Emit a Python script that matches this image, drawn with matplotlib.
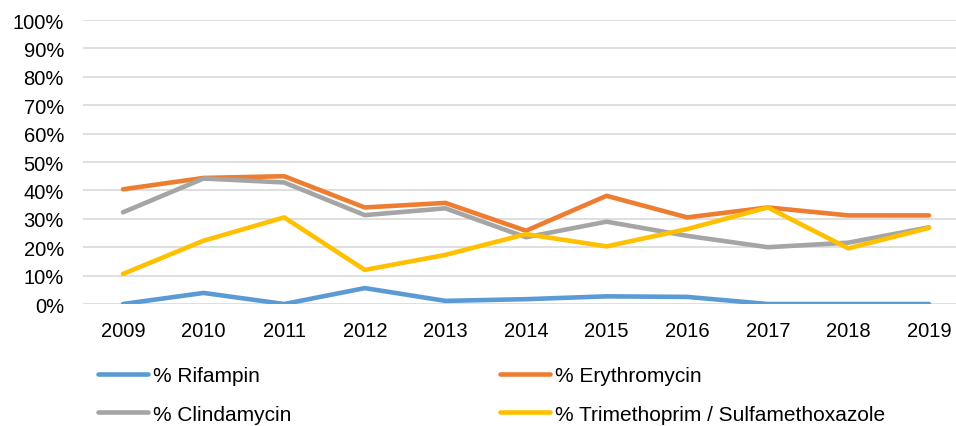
import matplotlib.pyplot as plt
from matplotlib.ticker import PercentFormatter

plt.rcParams['font.family'] = ['Liberation Sans', 'DejaVu Sans']

years = ['2009', '2010', '2011', '2012', '2013', '2014', '2015', '2016', '2017', '2018', '2019']
rifampin = [0.0, 3.9, 0.0, 5.6, 1.1, 1.7, 2.7, 2.5, 0.0, 0.0, 0.0]
erythromycin = [40.4, 44.4, 45.0, 34.0, 35.6, 25.8, 38.1, 30.5, 34.0, 31.2, 31.2]
clindamycin = [32.3, 44.2, 42.8, 31.3, 33.7, 23.5, 29.0, 24.0, 20.0, 21.6, 27.0]
tmp_smx = [10.6, 22.3, 30.5, 12.0, 17.3, 24.6, 20.3, 26.4, 34.0, 19.6, 26.8]

fig = plt.figure(figsize=(9.56, 4.27), dpi=100)
ax = fig.add_axes([0.0865, 0.2857, 0.9274, 0.665])

x = range(len(years))
lw = 3.3
l1, = ax.plot(x, rifampin, color='#5B9BD5', lw=lw, solid_capstyle='round', label='% Rifampin')
l2, = ax.plot(x, erythromycin, color='#ED7D31', lw=lw, solid_capstyle='round', label='% Erythromycin')
l3, = ax.plot(x, clindamycin, color='#A5A5A5', lw=lw, solid_capstyle='round', label='% Clindamycin')
l4, = ax.plot(x, tmp_smx, color='#FFC000', lw=lw, solid_capstyle='round',
              label='% Trimethoprim / Sulfamethoxazole')

ax.set_xlim(-0.5, len(years) - 0.5)
ax.set_ylim(0, 100)
ax.set_yticks(range(0, 101, 10))
ax.yaxis.set_major_formatter(PercentFormatter(decimals=0))
ax.set_xticks(list(x))
ax.set_xticklabels(years)
ax.grid(axis='y', color='#D9D9D9', lw=1.2)
ax.set_axisbelow(True)
for s in ax.spines.values():
    s.set_visible(False)
ax.tick_params(axis='y', length=0, pad=13.5, labelsize=14.5)
ax.tick_params(axis='x', length=0, pad=12, labelsize=14.5)

leg_kw = dict(loc='center left', frameon=False, fontsize=15, handlelength=2.4,
              handletextpad=0.25, labelspacing=0.95, borderpad=0, borderaxespad=0)
fig.legend([l1, l3], ['% Rifampin', '% Clindamycin'], bbox_to_anchor=(98 / 956, 0.073), **leg_kw)
fig.legend([l2, l4], ['% Erythromycin', '% Trimethoprim / Sulfamethoxazole'],
           bbox_to_anchor=(500 / 956, 0.073), **leg_kw)

fig.savefig('out.png', dpi=100)
